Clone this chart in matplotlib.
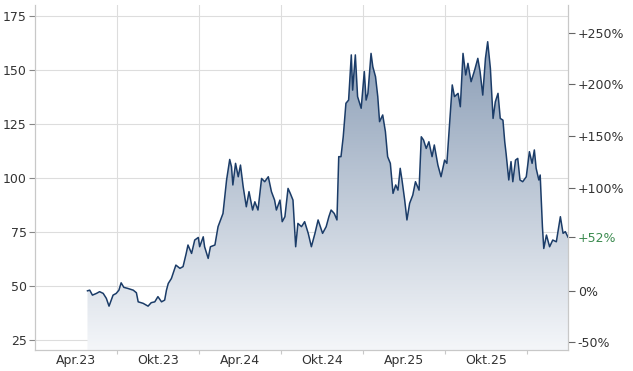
import matplotlib
matplotlib.use("Agg")
import matplotlib.pyplot as plt
from matplotlib.colors import LinearSegmentedColormap
import numpy as np
import pandas as pd

dates = [
    "2023-04-27", "2023-05-02", "2023-05-08", "2023-05-17", "2023-05-24", "2023-06-01",
    "2023-06-08", "2023-06-14", "2023-06-23", "2023-06-30", "2023-07-06", "2023-07-11",
    "2023-07-17", "2023-07-26", "2023-08-07", "2023-08-14", "2023-08-18", "2023-08-29",
    "2023-09-09", "2023-09-16", "2023-09-24", "2023-10-01", "2023-10-09", "2023-10-16",
    "2023-10-20", "2023-10-24", "2023-10-31", "2023-11-10", "2023-11-19", "2023-11-26",
    "2023-12-03", "2023-12-07", "2023-12-15", "2023-12-22", "2023-12-30", "2024-01-02",
    "2024-01-10", "2024-01-13", "2024-01-21", "2024-01-26", "2024-02-05", "2024-02-12",
    "2024-02-19", "2024-02-23", "2024-03-02", "2024-03-09", "2024-03-13", "2024-03-16",
    "2024-03-22", "2024-03-28", "2024-04-02", "2024-04-08", "2024-04-15", "2024-04-21",
    "2024-04-29", "2024-05-04", "2024-05-11", "2024-05-19", "2024-05-26", "2024-06-03",
    "2024-06-10", "2024-06-17", "2024-06-21", "2024-06-29", "2024-07-04", "2024-07-10",
    "2024-07-17", "2024-07-22", "2024-07-28", "2024-08-03", "2024-08-08", "2024-08-16",
    "2024-08-23", "2024-08-31", "2024-09-07", "2024-09-15", "2024-09-22", "2024-10-02",
    "2024-10-10", "2024-10-16", "2024-10-21", "2024-10-28", "2024-11-03", "2024-11-07",
    "2024-11-12", "2024-11-17", "2024-11-23", "2024-11-29", "2024-12-05", "2024-12-08",
    "2024-12-14", "2024-12-19", "2024-12-27", "2025-01-03", "2025-01-07", "2025-01-11",
    "2025-01-18", "2025-01-22", "2025-01-28", "2025-02-02", "2025-02-06", "2025-02-13",
    "2025-02-19", "2025-02-24", "2025-03-02", "2025-03-08", "2025-03-14", "2025-03-19",
    "2025-03-24", "2025-03-28", "2025-04-03", "2025-04-08", "2025-04-14", "2025-04-21",
    "2025-04-27", "2025-05-05", "2025-05-10", "2025-05-15", "2025-05-21", "2025-05-27",
    "2025-06-03", "2025-06-08", "2025-06-16", "2025-06-23", "2025-07-01", "2025-07-06",
    "2025-07-12", "2025-07-18", "2025-07-23", "2025-07-31", "2025-08-05", "2025-08-11",
    "2025-08-17", "2025-08-22", "2025-08-29", "2025-09-06", "2025-09-13", "2025-09-18",
    "2025-09-24", "2025-09-30", "2025-10-05", "2025-10-11", "2025-10-17", "2025-10-22",
    "2025-10-28", "2025-11-02", "2025-11-08", "2025-11-12", "2025-11-15", "2025-11-21",
    "2025-11-26", "2025-11-30", "2025-12-06", "2025-12-11", "2025-12-16", "2025-12-22",
    "2025-12-30", "2026-01-06", "2026-01-12", "2026-01-17", "2026-01-21", "2026-01-27",
    "2026-01-30", "2026-02-04", "2026-02-07", "2026-02-13", "2026-02-20", "2026-02-27",
    "2026-03-07", "2026-03-16", "2026-03-22", "2026-03-27", "2026-04-02",
]
prices = [
    47.8, 48.1, 45.8, 46.6, 47.4, 46.6,
    44.3, 40.7, 45.8, 46.6, 48.1, 51.5,
    49.4, 48.9, 48.1, 46.9, 42.7, 42.0,
    40.7, 42.3, 42.7, 45.1, 42.7, 43.5,
    48.1, 51.2, 53.5, 59.7, 58.2, 59.0,
    65.1, 69.0, 65.1, 71.3, 72.5, 68.2,
    72.8, 68.2, 62.8, 68.2, 69.0, 77.5,
    81.3, 83.6, 99.1, 108.6, 105.2, 96.8,
    106.8, 100.6, 106.0, 96.0, 86.7, 93.7,
    85.2, 89.0, 85.2, 99.8, 98.3, 100.6,
    93.7, 89.8, 85.2, 89.8, 79.8, 82.1,
    95.2, 92.9, 89.8, 68.2, 79.0, 77.5,
    79.8, 74.4, 68.2, 74.4, 80.6, 74.4,
    77.5, 82.1, 85.2, 83.6, 80.6, 109.9,
    109.9, 119.1, 134.6, 136.1, 157.0, 140.7,
    157.0, 137.7, 132.3, 149.3, 136.1, 139.2,
    157.7, 151.5, 146.9, 137.7, 126.1, 129.2,
    121.5, 109.9, 106.8, 92.9, 96.8, 94.4,
    104.5, 99.1, 89.8, 80.6, 88.3, 92.1,
    98.3, 94.4, 119.1, 117.6, 113.7, 116.8,
    109.9, 115.3, 106.0, 100.6, 108.3, 106.8,
    125.3, 143.1, 137.7, 139.2, 133.0, 157.7,
    147.7, 153.1, 144.6, 150.0, 155.4, 149.3,
    138.4, 155.4, 163.1, 150.8, 127.6, 135.3,
    139.2, 127.6, 126.8, 116.8, 111.4, 99.1,
    107.6, 98.3, 108.3, 109.1, 99.1, 98.3,
    100.6, 112.2, 106.8, 113.0, 104.5, 99.1,
    101.4, 77.5, 67.4, 73.6, 68.2, 71.3,
    70.5, 82.1, 74.4, 75.2, 72.65,
]

left_ticks = [25, 50, 75, 100, 125, 150, 175]
pct_ticks = [-50, 0, 100, 150, 200, 250]
grid_dates = ["2023-07-01", "2024-01-01", "2024-07-01", "2025-01-01", "2025-07-01", "2026-01-01"]
label_dates = ["2023-04-01", "2023-10-01", "2024-04-01", "2024-10-01", "2025-04-01", "2025-10-01"]
label_texts = ["Apr.23", "Okt.23", "Apr.24", "Okt.24", "Apr.25", "Okt.25"]

x = pd.to_datetime(dates)
y = np.array(prices)
base = y[0]

fig = plt.figure(figsize=(6.33, 3.71), dpi=100)
ax = fig.add_axes([35 / 633, 21 / 371, 533 / 633, 345 / 371])
ymin, ymax = 20.4, 180.1
ax.set_ylim(ymin, ymax)
ax.set_xlim(pd.Timestamp("2022-12-31"), x[-1])

txt = "#333333"
grid_c = "#dddddd"
spine_c = "#c8c8c8"

# gradient fill under the line
cmap = LinearSegmentedColormap.from_list("g", ["#f4f6f9", "#7e93ae"])
grad = np.linspace(0, 1, 256).reshape(-1, 1)
xl = ax.get_xlim()
im = ax.imshow(grad, aspect="auto", cmap=cmap, origin="lower",
               extent=[xl[0], xl[1], ymin, ymax], zorder=1)
poly = ax.fill_between(x, y, ymin, color="none", lw=0)
clip = poly.get_paths()[0]
im.set_clip_path(clip, transform=ax.transData)
ax.plot(x, y, color="#1b3c68", lw=1.1, zorder=3)
ax.set_xlim(xl)

# grid
for gd in grid_dates:
    ax.axvline(pd.Timestamp(gd), color=grid_c, lw=0.8, zorder=0)
for t in left_ticks:
    ax.axhline(t, color=grid_c, lw=0.8, zorder=0)

ax.set_yticks(left_ticks)
ax.set_yticklabels([str(t) for t in left_ticks])
ax.tick_params(axis="y", direction="out", length=4, width=0.8, color="#888888",
               labelcolor=txt, labelsize=9, pad=2)

ax.set_xticks(pd.to_datetime(grid_dates))
ax.set_xticklabels([])
ax.set_xticks(pd.to_datetime(label_dates), minor=True)
ax.set_xticklabels(label_texts, minor=True)
ax.tick_params(axis="x", which="major", direction="out", length=3, width=0.8, color=spine_c)
ax.tick_params(axis="x", which="minor", length=0, labelcolor=txt, labelsize=9, pad=3)

ax.spines["top"].set_visible(False)
for s in ["left", "bottom", "right"]:
    ax.spines[s].set_color(spine_c)
    ax.spines[s].set_linewidth(0.8)

ax2 = ax.twinx()
ax2.set_ylim(ymin, ymax)
ax2.spines["top"].set_visible(False)
for s in ["left", "bottom", "right"]:
    ax2.spines[s].set_color(spine_c)
    ax2.spines[s].set_linewidth(0.8)
pct_vals = [base * (1 + p / 100) for p in pct_ticks]
last_pct = round((y[-1] / base - 1) * 100)
ax2.set_yticks(pct_vals + [y[-1]])
labels = [("+%d%%" % p if p > 0 else "%d%%" % p) for p in pct_ticks]
labels.append("+%d%%" % last_pct)
ax2.set_yticklabels(labels)
ax2.tick_params(axis="y", direction="out", length=5, width=0.8, color="#666666",
                labelcolor=txt, labelsize=9, pad=2)
ax2.get_yticklabels()[-1].set_color("#3a8a4e")

fig.savefig("out.png", dpi=100, facecolor="white")
